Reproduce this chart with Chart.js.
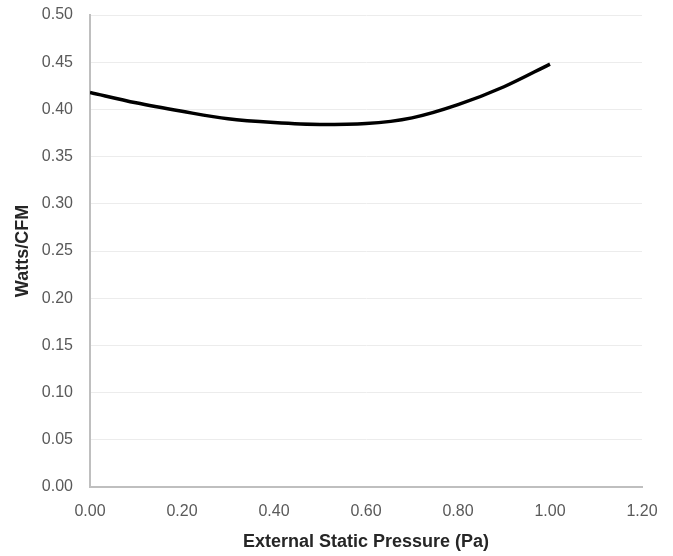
<!DOCTYPE html>
<html>
<head>
<meta charset="utf-8">
<script src="https://cdn.jsdelivr.net/npm/chart.js@4"></script>
<style>
  html, body { margin: 0; padding: 0; background: #fff; }
  #wrap { width: 673px; height: 556px; position: relative; }
</style>
</head>
<body>
<div id="wrap"><canvas id="chart"></canvas></div>
<script>
// --- DATA ---
const pressure = [0.0, 0.1, 0.2, 0.3, 0.4, 0.5, 0.6, 0.7, 0.8, 0.9, 1.0];
const wattsPerCfm = [0.418, 0.407, 0.398, 0.390, 0.386, 0.384, 0.385, 0.391, 0.405, 0.424, 0.448];
const xTicks = [0, 0.2, 0.4, 0.6, 0.8, 1.0, 1.2];
const yTicks = [0, 0.05, 0.10, 0.15, 0.20, 0.25, 0.30, 0.35, 0.40, 0.45, 0.50];

const tickFont = { family: 'Liberation Sans, Arial, sans-serif', size: 16 };
const titleFont = { family: 'Liberation Sans, Arial, sans-serif', size: 18, weight: 'bold' };

const ctx = document.getElementById('chart').getContext('2d');
new Chart(ctx, {
    type: 'scatter',
    data: {
        datasets: [{
            data: pressure.map((x, i) => ({ x: x, y: wattsPerCfm[i] })),
            showLine: true,
            borderColor: '#000',
            borderWidth: 3.5,
            pointRadius: 0,
            cubicInterpolationMode: 'monotone'
        }]
    },
    options: {
        responsive: true,
        maintainAspectRatio: false,
        animation: false,
        layout: { padding: { top: 15, right: 31, bottom: 0, left: 0 } },
        plugins: { legend: { display: false }, tooltip: { enabled: false } },
        scales: {
            x: {
                type: 'linear',
                min: 0, max: 1.2,
                afterBuildTicks: s => { s.ticks = xTicks.map(v => ({ value: v })); },
                afterFit: s => { s.height = 69; s.paddingLeft = 0; s.paddingRight = 0; },
                grid: { display: false, drawTicks: false },
                border: { color: '#bfbfbf', width: 2 },
                ticks: { color: '#595959', font: tickFont, padding: 15, callback: v => v.toFixed(2), maxRotation: 0 },
                title: { display: true, text: 'External Static Pressure (Pa)', color: '#262626', font: titleFont, padding: { top: 4, bottom: 3 } }
            },
            y: {
                min: 0, max: 0.5,
                afterBuildTicks: s => { s.ticks = yTicks.map(v => ({ value: v })); },
                afterFit: s => { s.width = 90; s.paddingTop = 0; s.paddingBottom = 0; },
                grid: { color: '#ececec', lineWidth: 1, drawTicks: false },
                border: { color: '#bfbfbf', width: 2 },
                ticks: { color: '#595959', font: tickFont, padding: 17, callback: v => v.toFixed(2) },
                title: { display: true, text: 'Watts/CFM', color: '#262626', font: titleFont, padding: { top: 12, bottom: 4 } }
            }
        }
    }
});
</script>
</body>
</html>
